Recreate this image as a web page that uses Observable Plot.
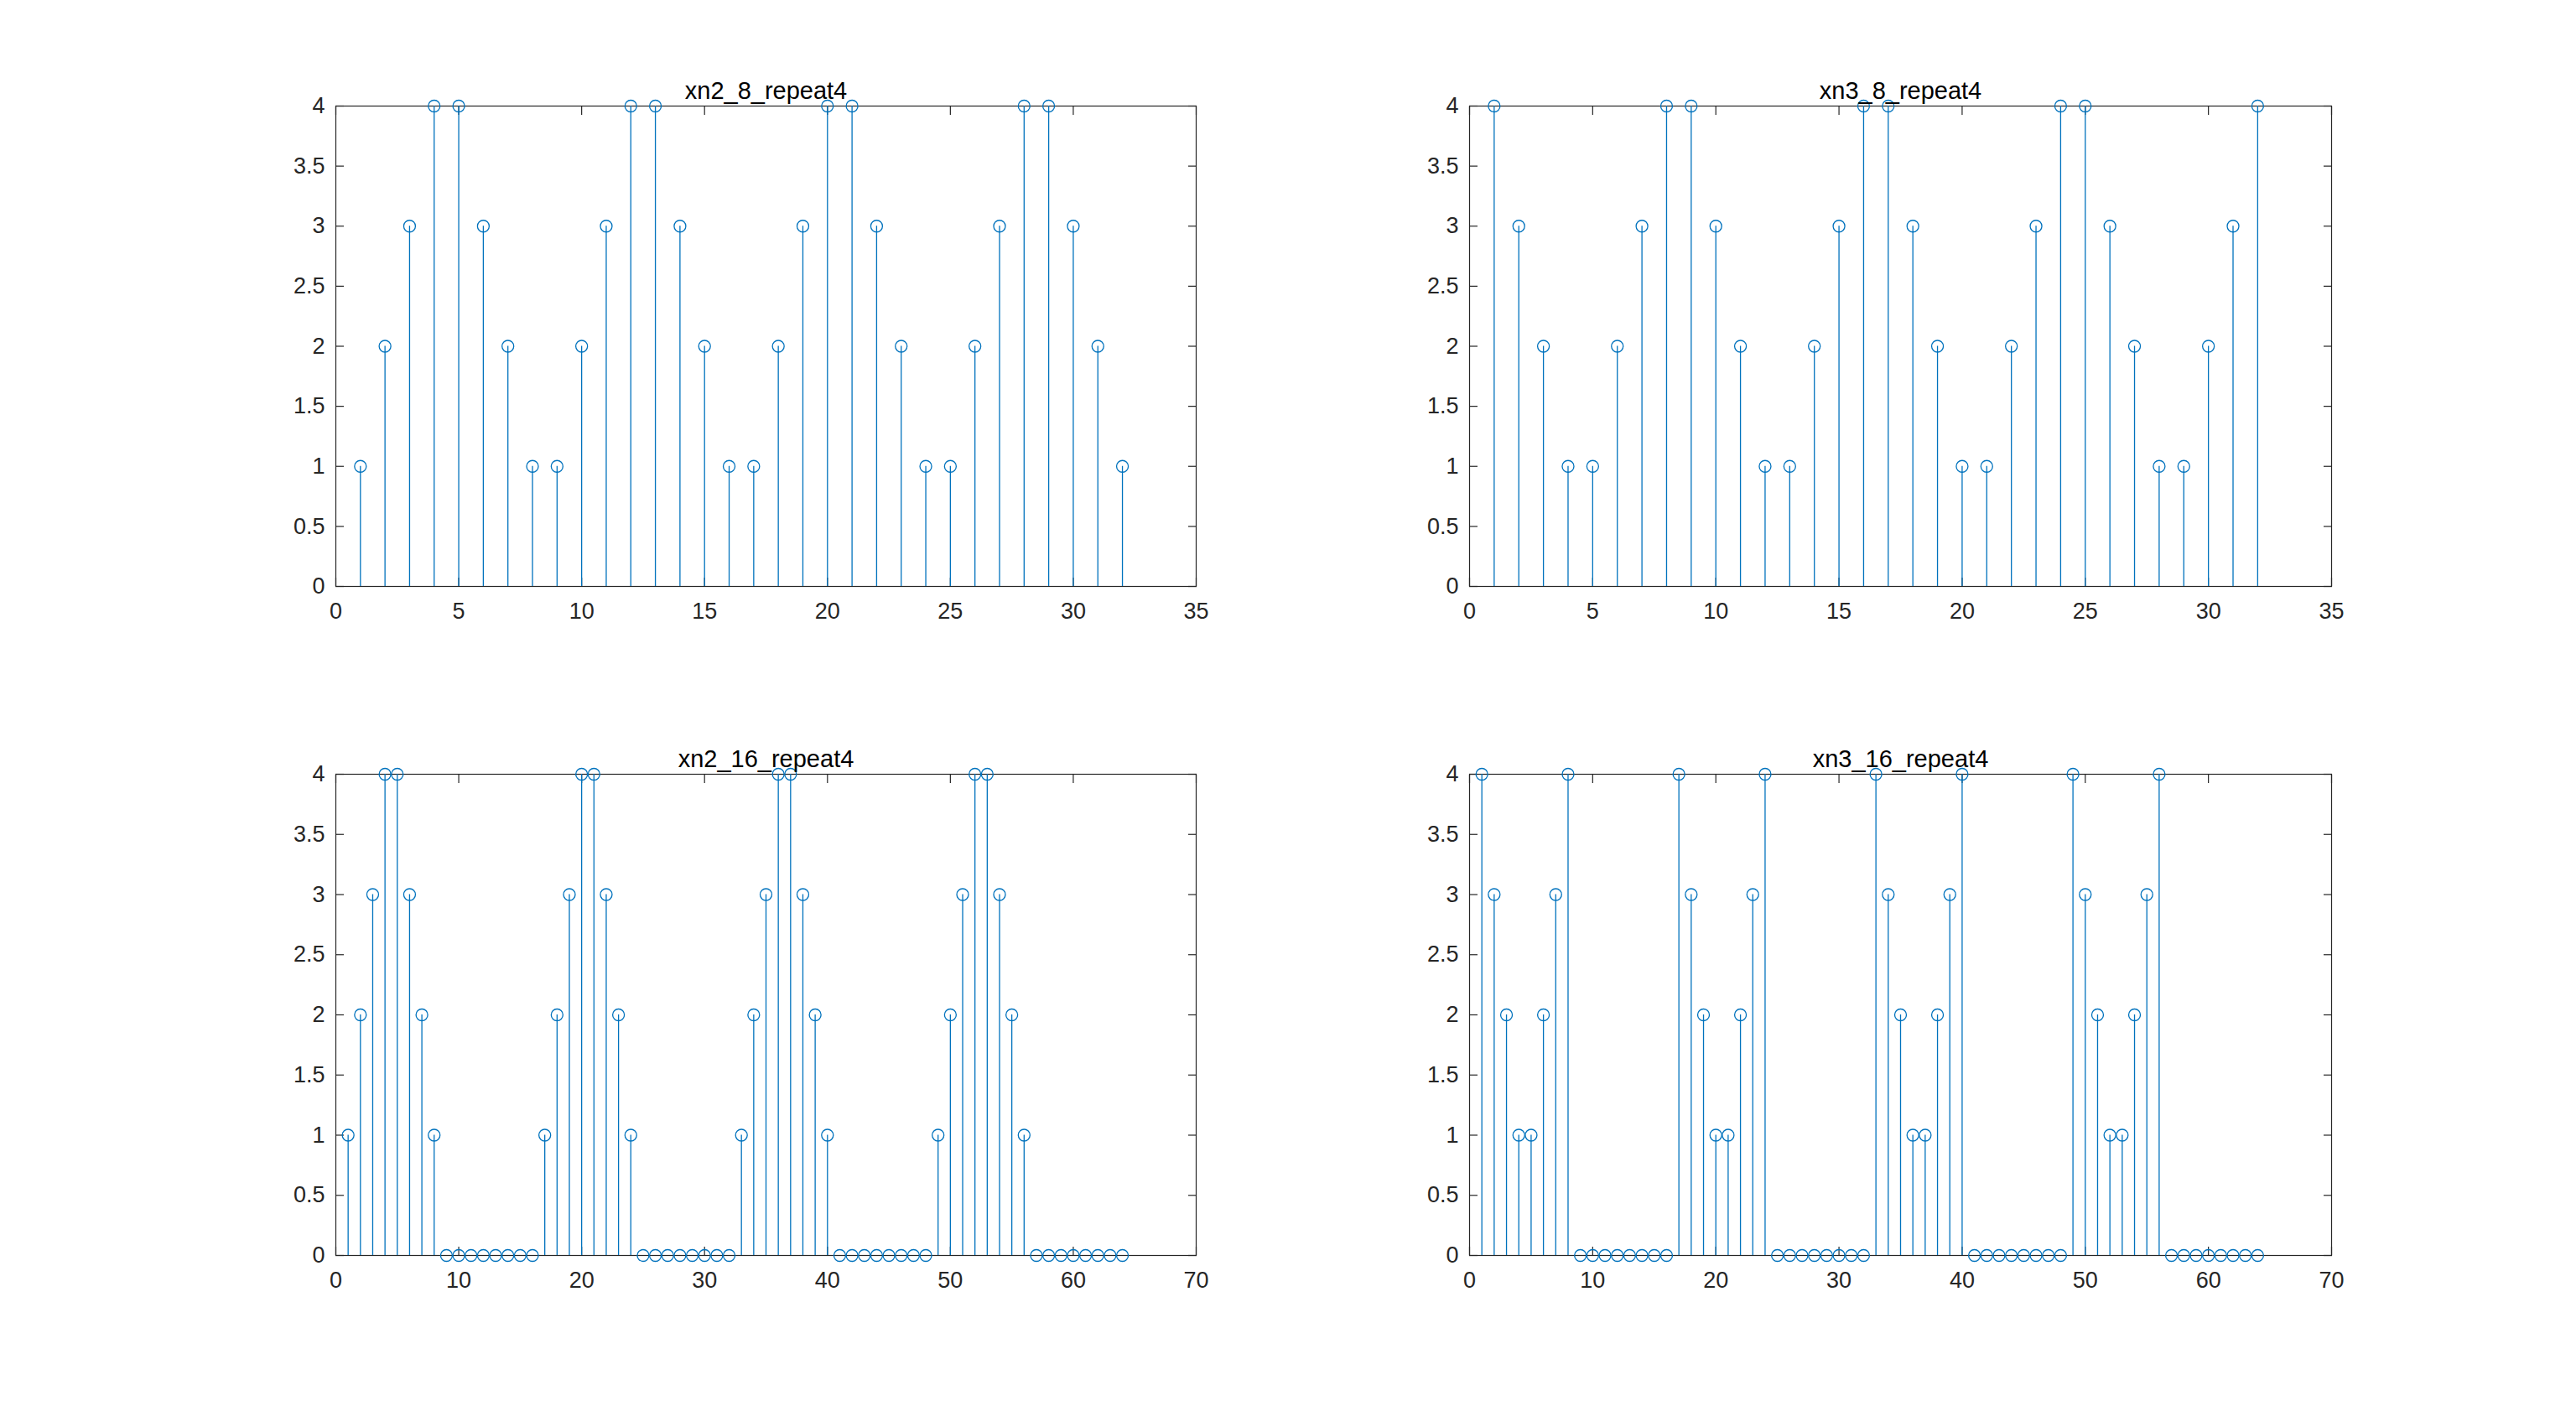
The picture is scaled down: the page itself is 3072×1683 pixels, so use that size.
<!DOCTYPE html>
<html>
<head>
<meta charset="utf-8">
<script src="https://cdn.jsdelivr.net/npm/d3@7"></script>
<script src="https://cdn.jsdelivr.net/npm/@observablehq/plot@0.6"></script>
<style>
  html, body { margin: 0; padding: 0; background: #ffffff; }
  #root { position: relative; width: 3072px; height: 1683px; background: #ffffff; overflow: hidden; }
  .panel { position: absolute; }
  .panel svg { display: block; background: transparent; }
</style>
</head>
<body>
<div id="root"></div>
<script>
// ---- data ----
const titles = ["xn2_8_repeat4", "xn3_8_repeat4", "xn2_16_repeat4", "xn3_16_repeat4"];

const xn2_8_repeat4 = [1,2,3,4,4,3,2,1, 1,2,3,4,4,3,2,1, 1,2,3,4,4,3,2,1, 1,2,3,4,4,3,2,1];
const xn3_8_repeat4 = [4,3,2,1,1,2,3,4, 4,3,2,1,1,2,3,4, 4,3,2,1,1,2,3,4, 4,3,2,1,1,2,3,4];
const xn2_16_repeat4 = [1,2,3,4,4,3,2,1,0,0,0,0,0,0,0,0, 1,2,3,4,4,3,2,1,0,0,0,0,0,0,0,0,
                        1,2,3,4,4,3,2,1,0,0,0,0,0,0,0,0, 1,2,3,4,4,3,2,1,0,0,0,0,0,0,0,0];
const xn3_16_repeat4 = [4,3,2,1,1,2,3,4,0,0,0,0,0,0,0,0, 4,3,2,1,1,2,3,4,0,0,0,0,0,0,0,0,
                        4,3,2,1,1,2,3,4,0,0,0,0,0,0,0,0, 4,3,2,1,1,2,3,4,0,0,0,0,0,0,0,0];

const xTicks32 = [0, 5, 10, 15, 20, 25, 30, 35];
const xTicks64 = [0, 10, 20, 30, 40, 50, 60, 70];
const yTicks = [0, 0.5, 1, 1.5, 2, 2.5, 3, 3.5, 4];

// ---- style ----
const stemColor = "#0072BD";
const axisColor = "#262626";
const font = "'Liberation Sans', Arial, Helvetica, sans-serif";

function stemPlot(values, title, xTicks, box) {
  const data = values.map((v, i) => ({n: i + 1, v}));
  const xMax = xTicks[xTicks.length - 1];
  const tickOpts = {tickSize: 10, fill: "none", stroke: axisColor, strokeWidth: 1.2, label: null};
  return Plot.plot({
    width: box.w,
    height: box.h,
    marginLeft: box.ml,
    marginRight: box.mr,
    marginTop: box.mt,
    marginBottom: box.mb,
    style: {fontFamily: font, background: "transparent", color: axisColor, overflow: "visible"},
    x: {domain: [0, xMax]},
    y: {domain: [0, 4]},
    marks: [
      Plot.frame({stroke: axisColor, strokeWidth: 1.2}),
      // inward tick marks on all four sides
      Plot.axisX(xTicks, {...tickOpts, anchor: "bottom", dy: -10}),
      Plot.axisX(xTicks, {...tickOpts, anchor: "top", dy: 10}),
      Plot.axisY(yTicks, {...tickOpts, anchor: "left", dx: 10}),
      Plot.axisY(yTicks, {...tickOpts, anchor: "right", dx: -10}),
      // tick labels
      Plot.axisX(xTicks, {anchor: "bottom", tickSize: 0, tickPadding: 19, fontSize: 27, fill: axisColor, label: null, tickFormat: d => String(d)}),
      Plot.axisY(yTicks, {anchor: "left", tickSize: 0, tickPadding: 13, fontSize: 27, fill: axisColor, label: null, tickFormat: d => String(d)}),
      Plot.ruleX(data, {x: "n", y1: 0, y2: "v", stroke: stemColor, strokeWidth: 1.3}),
      Plot.dot(data, {x: "n", y: "v", r: 7, stroke: stemColor, fill: "none", strokeWidth: 1.3}),
      Plot.text([title], {frameAnchor: "top", dy: -9, lineAnchor: "bottom", fontSize: 29, fill: "#000000", text: d => d})
    ]
  });
}

const root = document.getElementById("root");
const panels = [
  {values: xn2_8_repeat4, title: titles[0], ticks: xTicks32, left: 0, top: 0, w: 1536, h: 800, ml: 400, mr: 110, mt: 126, mb: 101},
  {values: xn3_8_repeat4, title: titles[1], ticks: xTicks32, left: 1536, top: 0, w: 1536, h: 800, ml: 216, mr: 292, mt: 126, mb: 101},
  {values: xn2_16_repeat4, title: titles[2], ticks: xTicks64, left: 0, top: 800, w: 1536, h: 883, ml: 400, mr: 110, mt: 123, mb: 186},
  {values: xn3_16_repeat4, title: titles[3], ticks: xTicks64, left: 1536, top: 800, w: 1536, h: 883, ml: 216, mr: 292, mt: 123, mb: 186}
];
for (const p of panels) {
  const div = document.createElement("div");
  div.className = "panel";
  div.style.left = p.left + "px";
  div.style.top = p.top + "px";
  div.appendChild(stemPlot(p.values, p.title, p.ticks, p));
  root.appendChild(div);
}
</script>
</body>
</html>
